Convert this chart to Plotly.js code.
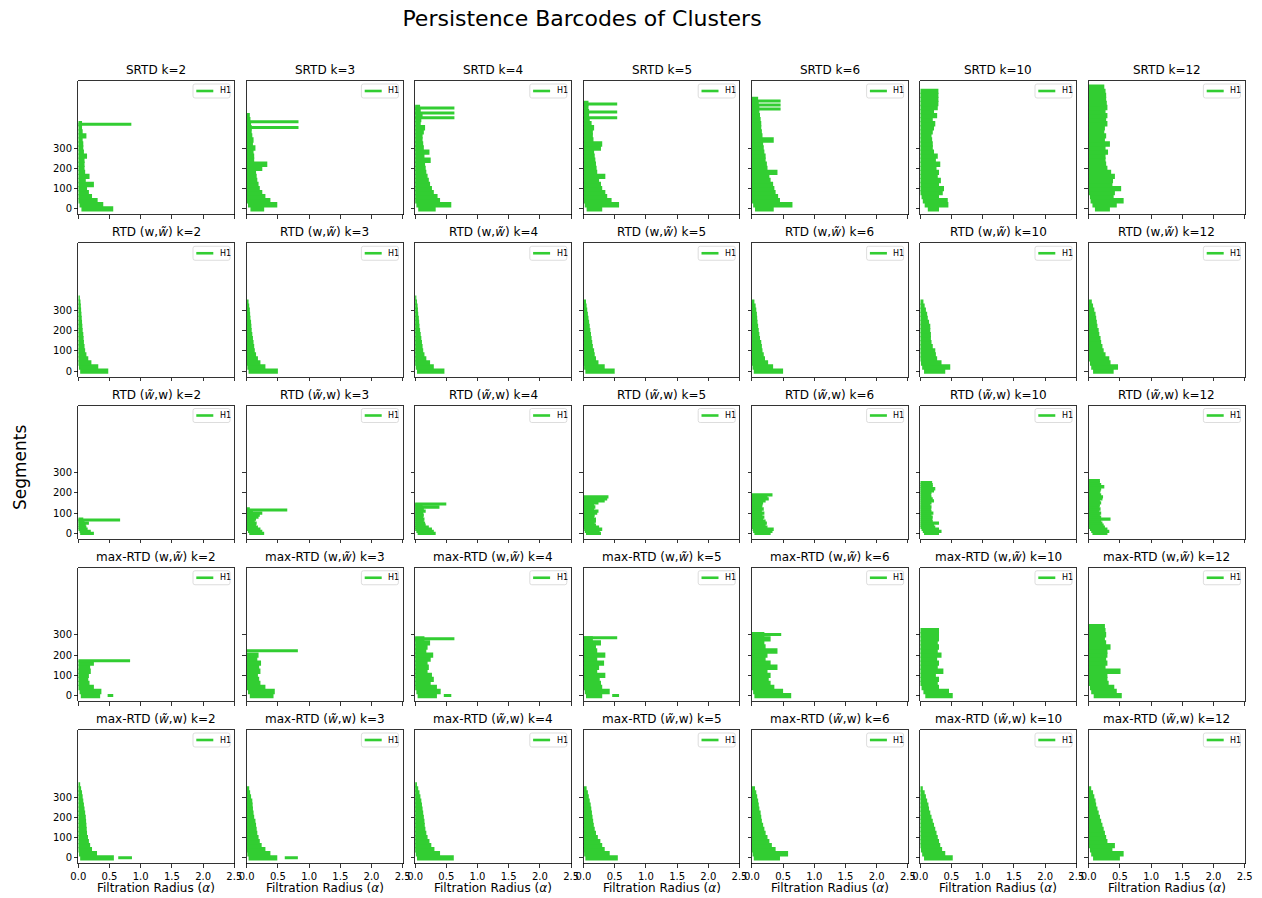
<!DOCTYPE html>
<html><head><meta charset="utf-8">
<script src="https://cdn.plot.ly/plotly-3.0.1.min.js"></script>
<style>body{margin:0;background:#fff}</style>
</head><body><div id="chart" style="width:1262px;height:898px"></div>
<script>
// ---------------- DATA ----------------
const kValues = [2, 3, 4, 5, 6, 10, 12];
const rowNames = ['SRTD', 'RTD (w,<i>w̃</i>)', 'RTD (<i>w̃</i>,w)', 'max-RTD (w,<i>w̃</i>)', 'max-RTD (<i>w̃</i>,w)'];
const legendLabel = 'H1';
const xTickVals = [0, 0.5, 1.0, 1.5, 2.0, 2.5];
const xTickText = ['0.0', '0.5', '1.0', '1.5', '2.0', '2.5'];
const yTickVals = [0, 100, 200, 300];
// segment-index spacing between the recorded bars of each row
const rowStep = [20, 20, 10, 20, 20];

// death radius of each recorded bar (segment 0, step, 2*step, ...), one list per k
const srtdDeaths = [
  [0.56,0.40,0.31,0.22,0.17,0.14,0.25,0.12,0.18,0.11,0.10,0.10,0.10,0.14,0.09,0.08,0.08,0.07,0.13,0.07,0.06,0.06],
  [0.28,0.49,0.38,0.30,0.25,0.21,0.19,0.17,0.16,0.15,0.25,0.33,0.12,0.12,0.11,0.14,0.10,0.11,0.09,0.08,0.08,0.07,0.06,0.05],
  [0.33,0.58,0.40,0.36,0.30,0.27,0.24,0.22,0.20,0.18,0.17,0.16,0.25,0.15,0.23,0.14,0.13,0.12,0.12,0.14,0.16,0.09,0.10,0.12,0.09,0.08],
  [0.30,0.57,0.45,0.38,0.35,0.30,0.28,0.25,0.35,0.22,0.21,0.20,0.19,0.18,0.17,0.28,0.30,0.16,0.15,0.15,0.17,0.13,0.10,0.09,0.09,0.08,0.08],
  [0.35,0.65,0.45,0.42,0.38,0.36,0.34,0.30,0.28,0.41,0.25,0.24,0.22,0.22,0.20,0.19,0.18,0.35,0.17,0.16,0.15,0.15,0.14,0.13,0.12,0.12,0.11,0.10],
  [0.30,0.45,0.44,0.30,0.36,0.38,0.30,0.33,0.28,0.30,0.26,0.32,0.25,0.28,0.22,0.20,0.20,0.19,0.18,0.20,0.22,0.24,0.20,0.27,0.22,0.28,0.29,0.29,0.29,0.29],
  [0.34,0.45,0.56,0.40,0.42,0.52,0.38,0.39,0.42,0.36,0.30,0.28,0.27,0.27,0.31,0.27,0.34,0.26,0.28,0.25,0.26,0.30,0.28,0.30,0.27,0.30,0.29,0.28,0.28,0.27,0.25]
];
const rtdWWDeaths = [
  [0.48,0.32,0.21,0.16,0.13,0.11,0.10,0.09,0.085,0.08,0.07,0.065,0.06,0.055,0.05,0.045,0.04,0.035,0.025],
  [0.50,0.30,0.22,0.18,0.15,0.13,0.12,0.11,0.10,0.09,0.08,0.075,0.07,0.06,0.055,0.05,0.04,0.03],
  [0.47,0.30,0.24,0.18,0.15,0.13,0.12,0.11,0.10,0.09,0.08,0.07,0.065,0.06,0.05,0.045,0.04,0.03,0.02],
  [0.50,0.34,0.24,0.20,0.18,0.17,0.15,0.14,0.13,0.12,0.11,0.10,0.09,0.08,0.07,0.06,0.05,0.04],
  [0.50,0.34,0.26,0.21,0.19,0.17,0.16,0.15,0.13,0.12,0.11,0.10,0.09,0.085,0.08,0.07,0.06,0.04],
  [0.40,0.48,0.34,0.27,0.25,0.24,0.20,0.18,0.17,0.17,0.16,0.16,0.14,0.12,0.11,0.09,0.07,0.05],
  [0.40,0.47,0.35,0.33,0.27,0.24,0.22,0.20,0.19,0.17,0.16,0.14,0.13,0.12,0.11,0.09,0.07,0.05]
];
const rtdWtWDeaths = [
  [0.25,0.20,0.15,0.13,0.12,0.17,0.10,0.08],
  [0.28,0.25,0.22,0.18,0.15,0.16,0.13,0.15,0.19,0.21,0.25,0.10,0.05],
  [0.33,0.30,0.27,0.22,0.17,0.16,0.14,0.15,0.13,0.14,0.13,0.17,0.14,0.39,0.12],
  [0.28,0.26,0.30,0.25,0.20,0.18,0.20,0.20,0.17,0.18,0.22,0.24,0.17,0.19,0.17,0.24,0.34,0.38,0.40],
  [0.30,0.33,0.35,0.25,0.22,0.24,0.22,0.18,0.20,0.17,0.20,0.16,0.19,0.16,0.17,0.18,0.22,0.27,0.25,0.33],
  [0.30,0.34,0.30,0.24,0.22,0.30,0.20,0.19,0.20,0.18,0.21,0.18,0.17,0.18,0.16,0.18,0.22,0.20,0.18,0.17,0.18,0.22,0.24,0.20,0.20,0.19],
  [0.30,0.33,0.30,0.26,0.24,0.22,0.20,0.35,0.20,0.18,0.20,0.17,0.19,0.17,0.18,0.20,0.18,0.22,0.23,0.20,0.18,0.19,0.20,0.25,0.20,0.18,0.18]
];
const maxWWDeaths = [
  [0.35,0.37,0.25,0.18,0.16,0.17,0.20,0.19,0.25],
  [0.43,0.45,0.30,0.22,0.20,0.18,0.22,0.20,0.23,0.17,0.19],
  [0.35,0.41,0.35,0.25,0.30,0.27,0.20,0.22,0.20,0.25,0.29,0.18,0.20,0.24,0.15],
  [0.30,0.42,0.30,0.28,0.26,0.35,0.22,0.25,0.33,0.22,0.35,0.22,0.20,0.28,0.15],
  [0.63,0.50,0.36,0.30,0.27,0.30,0.25,0.41,0.30,0.22,0.25,0.41,0.22,0.20,0.30,0.20],
  [0.52,0.46,0.30,0.28,0.30,0.25,0.37,0.28,0.30,0.27,0.34,0.28,0.30,0.28,0.30,0.30,0.30],
  [0.53,0.45,0.41,0.32,0.30,0.30,0.51,0.27,0.30,0.28,0.30,0.30,0.35,0.28,0.26,0.28,0.27,0.26]
];
const maxWtWDeaths = [
  [0.57,0.30,0.22,0.19,0.17,0.155,0.14,0.135,0.13,0.125,0.12,0.11,0.10,0.09,0.08,0.07,0.06,0.045,0.03],
  [0.49,0.38,0.30,0.24,0.21,0.19,0.17,0.16,0.15,0.14,0.12,0.11,0.10,0.095,0.09,0.07,0.055,0.04],
  [0.62,0.40,0.31,0.26,0.23,0.20,0.18,0.165,0.155,0.15,0.14,0.13,0.12,0.11,0.10,0.085,0.07,0.05,0.03],
  [0.55,0.42,0.34,0.30,0.27,0.23,0.20,0.18,0.165,0.155,0.145,0.135,0.125,0.115,0.10,0.085,0.07,0.05],
  [0.45,0.58,0.38,0.32,0.28,0.25,0.22,0.20,0.18,0.16,0.15,0.14,0.12,0.11,0.10,0.085,0.07,0.05],
  [0.52,0.40,0.35,0.32,0.30,0.28,0.26,0.24,0.22,0.20,0.18,0.16,0.14,0.13,0.11,0.09,0.07,0.04],
  [0.50,0.56,0.38,0.42,0.30,0.28,0.26,0.24,0.22,0.20,0.18,0.16,0.14,0.12,0.11,0.09,0.07,0.04]
];

// birth radius of the first recorded bars (later bars are born at 0)
const srtdBirths   = [[0.05,0.02],[0.06,0.02],[0.05,0.02],[0.05,0.02],[0.05,0.02],[0.12,0.07,0.04,0.02],[0.10,0.06,0.03,0.02]];
const rtdWWBirths  = [[0.03,0.01],[0.03,0.01],[0.03,0.01],[0.03,0.01],[0.03,0.01],[0.06,0.03,0.01],[0.07,0.04,0.02]];
const rtdWtWBirths = [[0.03,0.02],[0.04,0.02],[0.04,0.02],[0.04,0.02,0.01],[0.04,0.02,0.01],[0.06,0.04,0.02],[0.06,0.04,0.02]];
const maxWWBirths  = [[0.04,0.02],[0.05,0.02],[0.04,0.02],[0.04,0.02],[0.04,0.02],[0.08,0.05,0.02],[0.08,0.04,0.02]];
const maxWtWBirths = [[0.03,0.01],[0.03,0.01],[0.03,0.01],[0.03,0.01],[0.03,0.01],[0.06,0.03,0.01],[0.07,0.04,0.02]];

// single prominent bars: [k column, segment, birth, death]
const srtdLong   = [[0, 418, 0, 0.85], [1, 402, 0, 0.83], [1, 430, 0, 0.83],
                    [2, 449, 0, 0.63], [2, 473, 0, 0.63], [2, 498, 0, 0.63],
                    [3, 449, 0, 0.54], [3, 478, 0, 0.54], [3, 518, 0, 0.54],
                    [4, 493, 0, 0.46], [4, 513, 0, 0.46], [4, 532, 0, 0.46]];
const rtdWWLong  = [];
const rtdWtWLong = [[0, 66, 0, 0.67], [1, 115, 0, 0.65], [2, 145, 0, 0.50]];
const maxWWLong  = [[0, 0, 0.47, 0.56], [0, 172, 0, 0.83], [1, 221, 0, 0.82],
                    [2, 0, 0.46, 0.58], [2, 280, 0, 0.63], [3, 0, 0.46, 0.57], [3, 286, 0, 0.54],
                    [4, 302, 0, 0.47]];
const maxWtWLong = [[0, 0, 0.64, 0.86], [1, 0, 0.61, 0.82]];

const rowDeaths = [srtdDeaths, rtdWWDeaths, rtdWtWDeaths, maxWWDeaths, maxWtWDeaths];
const rowBirths = [srtdBirths, rtdWWBirths, rtdWtWBirths, maxWWBirths, maxWtWBirths];
const rowLong   = [srtdLong, rtdWWLong, rtdWtWLong, maxWWLong, maxWtWLong];

// ---------------- LAYOUT ----------------
const W = 1262, H = 898;
const panelW = 156, panelH = 133.5;
const colLeft = c => 78.3 + 168.4 * c;
const rowTop = r => 81 + 162.25 * r;
const yRange = [-28, 631];
const xRange = [0, 2.5];
const pxPerSeg = panelH / (yRange[1] - yRange[0]);
const GREEN = '#32CD32';
const FONT = 'DejaVu Sans, Arial, sans-serif';

const traces = [];
const layout = {
  width: W, height: H,
  margin: {l: 0, r: 0, t: 0, b: 0},
  paper_bgcolor: '#fff', plot_bgcolor: '#fff',
  font: {family: FONT, color: '#000'},
  title: {text: 'Persistence Barcodes of Clusters', x: 582 / W, xanchor: 'center',
          y: 1 - 18 / H, yanchor: 'middle', font: {size: 22, family: FONT, color: '#000'}},
  annotations: [], shapes: [],
  showlegend: false
};

const px = v => v / W, py = v => 1 - v / H;

for (let r = 0; r < 5; r++) {
  const step = rowStep[r];
  for (let c = 0; c < 7; c++) {
    const n = r * 7 + c + 1;
    const sfx = n > 1 ? String(n) : '';
    const L = colLeft(c), T = rowTop(r);
    const deaths = rowDeaths[r][c];
    const births = rowBirths[r][c];
    const xs = [], ys = [];
    deaths.forEach((d, i) => {
      const b = i < births.length ? births[i] : 0;
      xs.push(b, d, null); ys.push(i * step, i * step, null);
    });
    traces.push({
      type: 'scatter', mode: 'lines', x: xs, y: ys, name: legendLabel,
      xaxis: 'x' + sfx, yaxis: 'y' + sfx, hoverinfo: 'skip',
      line: {color: GREEN, width: step * pxPerSeg + 1.3}
    });
    const lx = [], ly = [];
    rowLong[r].filter(e => e[0] === c).forEach(e => {
      lx.push(e[2], e[3], null); ly.push(e[1], e[1], null);
    });
    if (lx.length) {
      traces.push({
        type: 'scatter', mode: 'lines', x: lx, y: ly, name: legendLabel,
        xaxis: 'x' + sfx, yaxis: 'y' + sfx, hoverinfo: 'skip',
        line: {color: GREEN, width: 3}
      });
    }
    const bottom = r === 4;
    layout['xaxis' + sfx] = {
      domain: [L / W, (L + panelW) / W], range: xRange, anchor: 'y' + sfx,
      tickmode: 'array', tickvals: xTickVals, ticktext: xTickText,
      showticklabels: bottom, ticks: 'outside', ticklen: 3.5, tickwidth: 0.8, tickcolor: '#000',
      showline: true, mirror: true, linecolor: '#000', linewidth: 0.8,
      showgrid: false, zeroline: false, automargin: false, fixedrange: true,
      tickfont: {size: 10, family: FONT, color: '#000'}
    };
    layout['yaxis' + sfx] = {
      domain: [1 - (T + panelH) / H, 1 - T / H], range: yRange, anchor: 'x' + sfx,
      tickmode: 'array', tickvals: yTickVals, ticktext: yTickVals.map(String),
      showticklabels: c === 0, ticks: 'outside', ticklen: 3.5, tickwidth: 0.8, tickcolor: '#000',
      showline: true, mirror: true, linecolor: '#000', linewidth: 0.8,
      showgrid: false, zeroline: false, automargin: false, fixedrange: true,
      tickfont: {size: 10, family: FONT, color: '#000'}
    };
    layout.annotations.push({
      text: rowNames[r] + ' k=' + kValues[c], xref: 'paper', yref: 'paper',
      x: px(L + panelW / 2), y: py(T), xanchor: 'center', yanchor: 'bottom',
      yshift: 2, showarrow: false, font: {size: 12, family: FONT, color: '#000'}
    });
    // legend box (rounded) with line sample and label
    const x0 = L + 114.7, x1 = L + 151.7, y0 = T + 3, y1 = T + 17, rr = 2;
    const path = `M${px(x0 + rr)},${py(y0)} L${px(x1 - rr)},${py(y0)} Q${px(x1)},${py(y0)} ${px(x1)},${py(y0 + rr)} ` +
                 `L${px(x1)},${py(y1 - rr)} Q${px(x1)},${py(y1)} ${px(x1 - rr)},${py(y1)} ` +
                 `L${px(x0 + rr)},${py(y1)} Q${px(x0)},${py(y1)} ${px(x0)},${py(y1 - rr)} ` +
                 `L${px(x0)},${py(y0 + rr)} Q${px(x0)},${py(y0)} ${px(x0 + rr)},${py(y0)} Z`;
    layout.shapes.push({type: 'path', xref: 'paper', yref: 'paper', path: path,
      fillcolor: 'rgba(255,255,255,0.8)', line: {color: '#d4d4d4', width: 0.8}});
    layout.shapes.push({type: 'line', xref: 'paper', yref: 'paper',
      x0: px(L + 118), x1: px(L + 135), y0: py(T + 10), y1: py(T + 10),
      line: {color: GREEN, width: 2.6}});
    layout.annotations.push({
      text: legendLabel, xref: 'paper', yref: 'paper', x: px(L + 139.5), y: py(T + 10),
      xanchor: 'left', yanchor: 'middle', showarrow: false,
      font: {size: 8, family: FONT, color: '#000'}
    });
    if (bottom) {
      layout.annotations.push({
        text: 'Filtration Radius (<i>α</i>)', xref: 'paper', yref: 'paper',
        x: px(L + panelW / 2), y: py(888), xanchor: 'center', yanchor: 'middle',
        showarrow: false, font: {size: 12, family: FONT, color: '#000'}
      });
    }
  }
}
layout.annotations.push({
  text: 'Segments', xref: 'paper', yref: 'paper', x: px(20), y: py(467),
  xanchor: 'center', yanchor: 'middle', textangle: -90, showarrow: false,
  font: {size: 17, family: FONT, color: '#000'}
});

Plotly.newPlot('chart', traces, layout, {displayModeBar: false, staticPlot: true});
</script>
</body></html>
